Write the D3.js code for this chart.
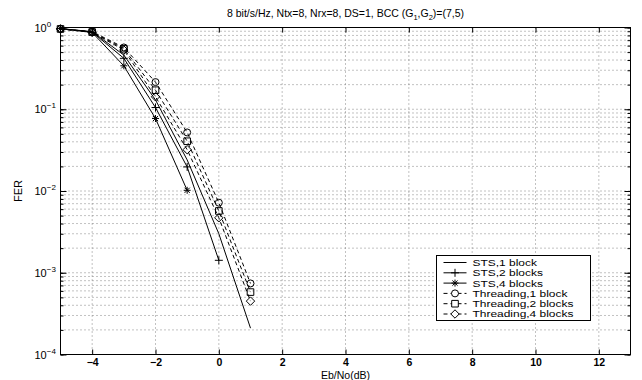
<!DOCTYPE html>
<html>
<head>
<meta charset="utf-8">
<script src="https://cdn.jsdelivr.net/npm/d3@7"></script>
<style>
  body { margin: 0; background: #fff; }
  text { font-family: "Liberation Sans", Arial, sans-serif; fill: #000; }
</style>
</head>
<body>
<svg id="chart" width="642" height="380"></svg>
<script>
// Eb/No points (dB)
const ebno = [-5, -4, -3, -2, -1, 0, 1];

// FER per curve
const sts1 = [0.97, 0.89, 0.46, 0.13, 0.024, 0.0030, 0.00021];
const sts2 = [0.97, 0.88, 0.42, 0.105, 0.0197, 0.00142];
const sts4 = [0.97, 0.87, 0.34, 0.077, 0.0102];
const thr1 = [0.96, 0.89, 0.57, 0.215, 0.052, 0.0072, 0.00074];
const thr2 = [0.96, 0.88, 0.55, 0.171, 0.0406, 0.0057, 0.00058];
const thr4 = [0.96, 0.87, 0.53, 0.142, 0.032, 0.0047, 0.00045];

const seriesNames = ["STS,1 block", "STS,2 blocks", "STS,4 blocks",
  "Threading,1 block", "Threading,2 blocks", "Threading,4 blocks"];
const seriesMarkers = ["none", "plus", "star", "circle", "square", "diamond"];
const seriesDash = [null, null, null, "4,3", "4,3", "4,3"];

const xTicks = [-4, -2, 0, 2, 4, 6, 8, 10, 12];
const yDecades = [0, -1, -2, -3, -4];

const W = 642, H = 380;
const mLeft = 60.5, mRight = 630.5, mTop = 27.5, mBottom = 354.5;

const svg = d3.select("#chart");

const x = d3.scaleLinear().domain([-5, 13]).range([mLeft, mRight]);
const y = d3.scaleLog().domain([1e-4, 1]).range([mBottom, mTop]);

// grid lines (dotted)
const minorY = [];
for (let d = -4; d < 0; d++) {
  for (let m = 1; m <= 9; m++) minorY.push(m * Math.pow(10, d));
}
const grid = svg.append("g")
  .attr("stroke", "#666")
  .attr("stroke-width", 0.8)
  .attr("stroke-dasharray", "1,3");

grid.selectAll("line.gx")
  .data(xTicks)
  .enter()
  .append("line")
  .attr("x1", d => x(d)).attr("x2", d => x(d))
  .attr("y1", mTop).attr("y2", mBottom);

grid.selectAll("line.gy")
  .data(minorY.filter(v => v > 1e-4))
  .enter()
  .append("line")
  .attr("x1", mLeft).attr("x2", mRight)
  .attr("y1", d => y(d)).attr("y2", d => y(d));

// axes with inward ticks
svg.append("g")
  .attr("transform", `translate(0,${mBottom})`)
  .call(d3.axisBottom(x).tickValues(xTicks).tickSize(-5).tickPadding(4)
    .tickFormat(d => d < 0 ? "\u2212" + Math.abs(d) : d))
  .call(g => g.select(".domain").remove())
  .call(g => g.selectAll("text").attr("font-size", 10.5).attr("font-weight", "bold").style("font-family", '"Liberation Sans", Arial, sans-serif'));

svg.append("g")
  .attr("transform", `translate(0,${mTop})`)
  .call(d3.axisTop(x).tickValues(xTicks).tickSize(-5).tickFormat(""))
  .call(g => g.select(".domain").remove());

const allYTicks = minorY.concat([1]);
svg.append("g")
  .attr("transform", `translate(${mLeft},0)`)
  .call(d3.axisLeft(y).tickValues(allYTicks).tickSize(-3).tickFormat(""))
  .call(g => g.select(".domain").remove());
svg.append("g")
  .attr("transform", `translate(${mRight},0)`)
  .call(d3.axisRight(y).tickValues(allYTicks).tickSize(-3).tickFormat(""))
  .call(g => g.select(".domain").remove());
// longer major ticks
const decadeVals = yDecades.map(d => Math.pow(10, d));
svg.append("g")
  .attr("transform", `translate(${mLeft},0)`)
  .call(d3.axisLeft(y).tickValues(decadeVals).tickSize(-6).tickFormat(""))
  .call(g => g.select(".domain").remove());
svg.append("g")
  .attr("transform", `translate(${mRight},0)`)
  .call(d3.axisRight(y).tickValues(decadeVals).tickSize(-6).tickFormat(""))
  .call(g => g.select(".domain").remove());

// y tick labels 10^n
const yl = svg.append("g");
yDecades.forEach(d => {
  const t = yl.append("text")
    .attr("x", mLeft - 26)
    .attr("y", y(Math.pow(10, d)) + 4)
    .attr("font-size", 11)
    .attr("text-anchor", "start");
  t.append("tspan").text("10");
  t.append("tspan").attr("dy", -5).attr("font-size", 8)
    .text(d === 0 ? "0" : "\u2212" + Math.abs(d));
});

// box
svg.append("rect")
  .attr("x", mLeft).attr("y", mTop)
  .attr("width", mRight - mLeft).attr("height", mBottom - mTop)
  .attr("fill", "none").attr("stroke", "#000").attr("stroke-width", 1);

// markers
function markerPath(kind, cx, cy) {
  const p = d3.path();
  if (kind === "plus") {
    p.moveTo(cx - 4, cy); p.lineTo(cx + 4, cy);
    p.moveTo(cx, cy - 4); p.lineTo(cx, cy + 4);
  } else if (kind === "star") {
    p.moveTo(cx - 3.5, cy); p.lineTo(cx + 3.5, cy);
    p.moveTo(cx, cy - 3.5); p.lineTo(cx, cy + 3.5);
    p.moveTo(cx - 2.6, cy - 2.6); p.lineTo(cx + 2.6, cy + 2.6);
    p.moveTo(cx - 2.6, cy + 2.6); p.lineTo(cx + 2.6, cy - 2.6);
  } else if (kind === "circle") {
    p.moveTo(cx + 3.5, cy); p.arc(cx, cy, 3.5, 0, 2 * Math.PI);
  } else if (kind === "square") {
    p.rect(cx - 3.3, cy - 3.3, 6.6, 6.6);
  } else if (kind === "diamond") {
    p.moveTo(cx, cy - 4.2); p.lineTo(cx + 4.2, cy);
    p.lineTo(cx, cy + 4.2); p.lineTo(cx - 4.2, cy); p.closePath();
  }
  return p.toString();
}

const allSeries = [sts1, sts2, sts4, thr1, thr2, thr4];
const line = d3.line().x(d => x(d[0])).y(d => y(d[1]));

const plot = svg.append("g");
allSeries.forEach((vals, i) => {
  const pts = vals.map((v, j) => [ebno[j], v]);
  plot.append("path")
    .datum(pts)
    .attr("d", line)
    .attr("fill", "none")
    .attr("stroke", "#000")
    .attr("stroke-width", 1)
    .attr("stroke-dasharray", seriesDash[i]);
  if (seriesMarkers[i] !== "none") {
    plot.selectAll(null)
      .data(pts)
      .enter()
      .append("path")
      .attr("d", d => markerPath(seriesMarkers[i], x(d[0]), y(d[1])))
      .attr("fill", "none")
      .attr("stroke", "#000")
      .attr("stroke-width", 1);
  }
});

// title
const title = svg.append("text")
  .attr("x", (mLeft + mRight) / 2)
  .attr("y", 17)
  .attr("text-anchor", "middle")
  .attr("font-size", 10.5);
title.append("tspan").text("8 bit/s/Hz, Ntx=8, Nrx=8, DS=1, BCC (G");
title.append("tspan").attr("dy", 3).attr("font-size", 7.5).text("1");
title.append("tspan").attr("dy", -3).text(",G");
title.append("tspan").attr("dy", 3).attr("font-size", 7.5).text("2");
title.append("tspan").attr("dy", -3).text(")=(7,5)");

// axis labels
svg.append("text")
  .attr("x", (mLeft + mRight) / 2)
  .attr("y", 378.5)
  .attr("text-anchor", "middle")
  .attr("font-size", 10.5)
  .text("Eb/No(dB)");

svg.append("text")
  .attr("transform", `translate(22,${(mTop + mBottom) / 2}) rotate(-90)`)
  .attr("text-anchor", "middle")
  .attr("font-size", 11)
  .text("FER");

// legend (text in the reference is horizontally stretched)
const lg = svg.append("g");
const lgX = 436.5, lgY = 255.5, lgW = 154, lgH = 65, rowH = 10.3;
lg.append("rect")
  .attr("x", lgX).attr("y", lgY).attr("width", lgW).attr("height", lgH)
  .attr("fill", "#fff").attr("stroke", "#000").attr("stroke-width", 1);
seriesNames.forEach((name, i) => {
  const cy = lgY + 7 + i * rowH;
  lg.append("line")
    .attr("x1", lgX + 7).attr("x2", lgX + 30)
    .attr("y1", cy).attr("y2", cy)
    .attr("stroke", "#000").attr("stroke-width", 1)
    .attr("stroke-dasharray", seriesDash[i]);
  if (seriesMarkers[i] !== "none") {
    lg.append("path")
      .attr("d", markerPath(seriesMarkers[i], lgX + 18.5, cy))
      .attr("fill", "#fff").attr("stroke", "#000").attr("stroke-width", 1);
  }
  lg.append("text")
    .attr("transform", `translate(${lgX + 36},${cy + 3.4}) scale(1.3,1)`)
    .attr("font-size", 9.2)
    .text(name);
});
</script>
</body>
</html>
